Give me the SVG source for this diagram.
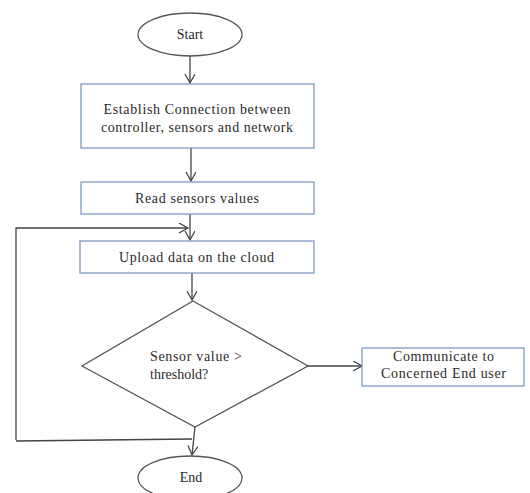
<svg xmlns="http://www.w3.org/2000/svg" width="530" height="493" viewBox="0 0 530 493">
<style>
text{font-family:"Liberation Serif","Times New Roman",serif;font-size:14px;fill:#2a2a2a}
.box{fill:#fff;stroke:#7f98c4;stroke-width:1.3}
.term{fill:#fff;stroke:#555;stroke-width:1.3}
.con{fill:none;stroke:#444;stroke-width:1.3}
</style>
<defs>
<marker id="ah" markerWidth="12" markerHeight="12" refX="10" refY="5" orient="auto" markerUnits="userSpaceOnUse">
<path d="M1,0 L10,5 L1,10" fill="none" stroke="#444" stroke-width="1.3"/>
</marker>
</defs>
<rect width="530" height="493" fill="#fff"/>
<g id="connectors">
<line class="con" x1="190" y1="56" x2="190" y2="83" marker-end="url(#ah)"/>
<line class="con" x1="191" y1="148" x2="191" y2="181" marker-end="url(#ah)"/>
<line class="con" x1="190" y1="214" x2="190" y2="240" marker-end="url(#ah)"/>
<polyline class="con" points="16,440 16,228 188,228" marker-end="url(#ah)"/>
<line class="con" x1="192" y1="273" x2="192" y2="300" marker-end="url(#ah)"/>
<line class="con" x1="308" y1="366" x2="362" y2="366" marker-end="url(#ah)"/>
<line class="con" x1="195" y1="427" x2="192" y2="455" marker-end="url(#ah)"/>
<line class="con" x1="16" y1="441" x2="192" y2="439"/>
</g>
<g id="start">
<ellipse class="term" cx="190" cy="34.5" rx="52" ry="21.5"/>
<text x="190" y="39" text-anchor="middle">Start</text>
</g>
<g id="establish">
<rect class="box" x="81" y="84" width="233" height="64"/>
<text x="197" y="114" text-anchor="middle" textLength="187">Establish Connection between</text>
<text x="197" y="132" text-anchor="middle" textLength="192">controller, sensors and network</text>
</g>
<g id="read">
<rect class="box" x="81" y="182" width="233" height="32"/>
<text x="197" y="202.5" text-anchor="middle" textLength="124">Read sensors values</text>
</g>
<g id="upload">
<rect class="box" x="80" y="241" width="234" height="32"/>
<text x="196.5" y="261.5" text-anchor="middle" textLength="155">Upload data on the cloud</text>
</g>
<g id="decision">
<polygon class="term" points="193,301 308,366 195,427 82,366"/>
<text x="150" y="361" textLength="92">Sensor value &gt;</text>
<text x="150" y="379">threshold?</text>
</g>
<g id="communicate">
<rect class="box" x="362" y="348" width="162" height="38"/>
<text x="443.5" y="361" text-anchor="middle" textLength="101">Communicate to</text>
<text x="443.5" y="378" text-anchor="middle" textLength="125">Concerned End user</text>
</g>
<g id="end">
<ellipse class="term" cx="190" cy="478" rx="52" ry="22"/>
<text x="191" y="482" text-anchor="middle">End</text>
</g>
</svg>
